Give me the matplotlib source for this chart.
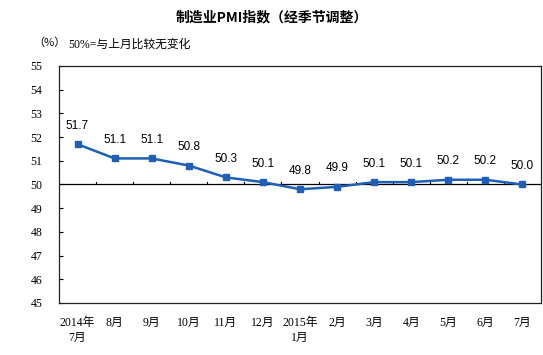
import matplotlib.pyplot as plt
import numpy as np

plt.rcParams['font.family'] = ['Liberation Serif', 'Noto Sans CJK SC']

months = ['2014年\n7月', '8月', '9月', '10月', '11月', '12月', '2015年\n1月',
          '2月', '3月', '4月', '5月', '6月', '7月']
pmi = [51.7, 51.1, 51.1, 50.8, 50.3, 50.1, 49.8, 49.9, 50.1, 50.1, 50.2, 50.2, 50.0]
yticks = [45, 46, 47, 48, 49, 50, 51, 52, 53, 54, 55]

fig = plt.figure(figsize=(5.43, 3.55), dpi=100)
ax = fig.add_axes([59 / 543, 1 - 303 / 355, 482 / 543, 237 / 355])

x = np.arange(len(pmi))
ax.plot(x, pmi, color='#1f5fb4', lw=1.8, marker='s', ms=5, zorder=3)
for xi, v in zip(x, pmi):
    ax.annotate(f'{v:.1f}', (xi, v), xytext=(0, 9), textcoords='offset points',
                ha='center', va='bottom', fontsize=8.5, family=['Liberation Sans'])

ax.set_xlim(-0.5, len(pmi) - 0.5)
ax.set_ylim(45, 55)
ax.axhline(50, color='black', lw=0.9, zorder=2)
# category boundary ticks on the 50 line
for b in np.arange(0.5, len(pmi) - 0.5, 1):
    ax.plot([b, b], [50, 50.12], color='black', lw=0.8)

ax.set_yticks(yticks)
ax.set_yticklabels([str(t) for t in yticks], fontsize=8.5)
ax.tick_params(axis='y', direction='in', length=3, pad=12)
ax.set_xticks(x)
ax.set_xticklabels(months, fontsize=8.5, linespacing=1.3, va='top')
ax.tick_params(axis='x', length=0, pad=10)
for s in ax.spines.values():
    s.set_linewidth(0.9)
    s.set_color('#222222')

fig.text(0.5, 1 - 17 / 355, '制造业PMI指数（经季节调整）', ha='center', va='center',
         fontsize=10, fontweight='bold', family=['Noto Sans CJK SC'])
fig.text(33 / 543, 1 - 43 / 355, '（%）', ha='left', va='center', fontsize=8,
         family=['Noto Sans CJK SC'])
fig.text(68 / 543, 1 - 45 / 355, '50%=与上月比较无变化', ha='left', va='center', fontsize=8.5)

fig.savefig('out.png', dpi=100)
